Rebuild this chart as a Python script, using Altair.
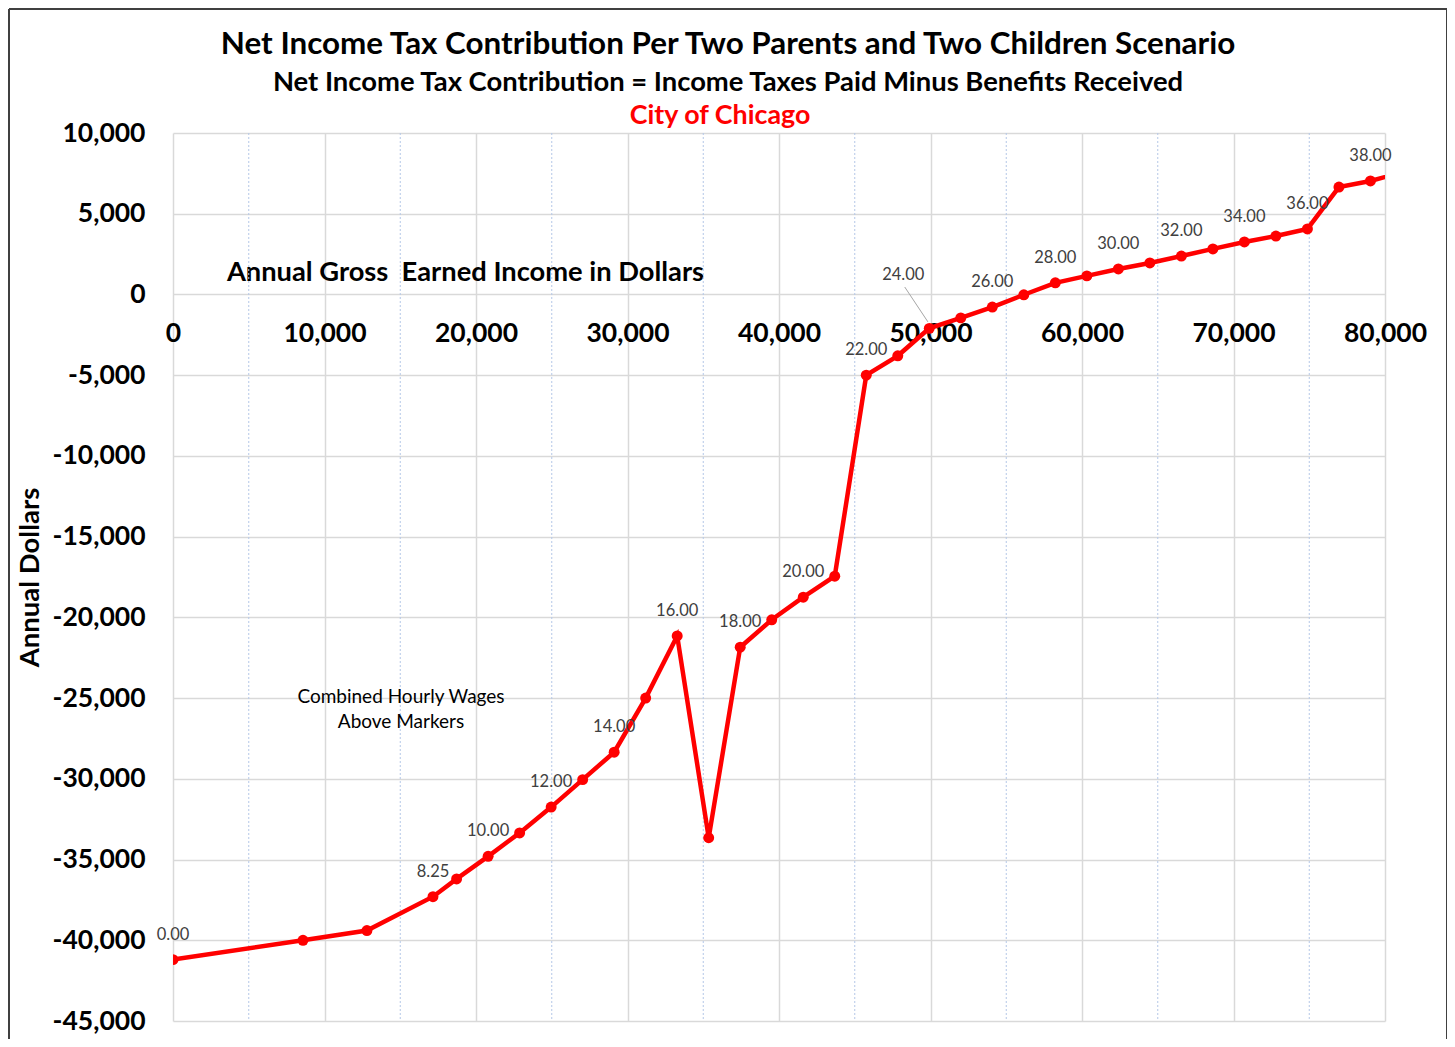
import altair as alt
import pandas as pd

# ---------------- data ----------------
income = [0, 8580, 12800, 17160, 18720, 20800, 22880, 24960, 27040, 29120,
          31200, 33280, 35360, 37440, 39520, 41600, 43680, 45760, 47840, 49920,
          52000, 54080, 56160, 58240, 60320, 62400, 64480, 66560, 68640, 70720,
          72800, 74880, 76960, 79040, 81120]
net_tax = [-41200, -40000, -39400, -37300, -36200, -34800, -33350, -31750, -30050, -28350,
           -25000, -21150, -33650, -21850, -20150, -18750, -17450, -5000, -3800, -2100,
           -1450, -780, -20, 720, 1150, 1580, 1950, 2380, 2820, 3250,
           3620, 4060, 6650, 7030, 7560]
wage_label = ["0.00", "", "", "8.25", "", "10.00", "", "12.00", "", "14.00",
              "", "16.00", "", "18.00", "", "20.00", "", "22.00", "", "",
              "", "26.00", "", "28.00", "", "30.00", "", "32.00", "", "34.00",
              "", "36.00", "", "38.00", ""]
callout_label = "24.00"

x_major = [0, 10000, 20000, 30000, 40000, 50000, 60000, 70000, 80000]
x_minor = [5000, 15000, 25000, 35000, 45000, 55000, 65000, 75000]
y_ticks = [-45000, -40000, -35000, -30000, -25000, -20000, -15000, -10000,
           -5000, 0, 5000, 10000]

title_main = "Net Income Tax Contribution Per Two Parents and Two Children Scenario"
title_sub = "Net Income Tax Contribution = Income Taxes Paid Minus Benefits Received"
title_city = "City of Chicago"
x_title = "Annual Gross \u00a0Earned Income in Dollars"
y_title = "Annual Dollars"
note_lines = ["Combined Hourly Wages", "Above Markers"]

# ---------------- chart ----------------
FONT = "Lato"
RED = "#ff0000"
W, H = 1212, 888
X_MIN, X_MAX = 0, 80000
Y_MIN, Y_MAX = -45000, 10000

df = pd.DataFrame({"income": income, "net": net_tax, "label": wage_label})
one = pd.DataFrame({"k": [0]})

xs = alt.Scale(domain=[X_MIN, X_MAX], nice=False, zero=False)
ys = alt.Scale(domain=[Y_MIN, Y_MAX], nice=False, zero=False)

x_axis = alt.Axis(
    values=x_major, labelExpr="format(datum.value, ',')", orient="bottom",
    offset=-H * (0 - Y_MIN) / (Y_MAX - Y_MIN),
    domain=False, ticks=False, tickSize=0, labelPadding=26,
    labelFont=FONT, labelFontSize=26.5, labelFontWeight="bold", labelColor="black",
    labelOverlap=False, labelFlush=False,
    grid=True, gridColor="#d9d9d9", gridWidth=1.5,
    title=x_title, titleFont=FONT, titleFontSize=27.3, titleFontWeight="bold",
    titleColor="black", titleX=292, titleY=-21.5, titleAlign="center",
    titleBaseline="middle", titleAngle=0,
)
y_axis = alt.Axis(
    values=y_ticks,
    labelExpr="replace(format(datum.value, ','), '\u2212', '-')",
    domain=False, ticks=False, tickSize=0, labelPadding=28,
    labelFont=FONT, labelFontSize=26.5, labelFontWeight="bold", labelColor="black",
    labelOverlap=False, labelFlush=False,
    grid=True, gridColor="#d9d9d9", gridWidth=1.5,
    title=y_title, titleFont=FONT, titleFontSize=27.5, titleFontWeight="bold",
    titleColor="black", titleX=-143, titleY=H / 2, titleAngle=270,
    titleAlign="center", titleBaseline="middle",
)

X = alt.X("income:Q", scale=xs, axis=x_axis)
Y = alt.Y("net:Q", scale=ys, axis=y_axis)

minor = alt.Chart(pd.DataFrame({"income": x_minor})).mark_rule(
    color="#b4c7e7", strokeDash=[2, 2], strokeWidth=1
).encode(x=X)

base = alt.Chart(df)
line = base.mark_line(color=RED, strokeWidth=4.5, clip=True).encode(x=X, y=Y)
points = base.mark_circle(color=RED, size=120, opacity=1, clip=True).encode(x=X, y=Y)
labels = base.transform_filter("datum.label != ''").mark_text(
    dy=-25, font=FONT, fontSize=16.5, color="#404040", baseline="middle"
).encode(x=X, y=Y, text="label:N")

leader = alt.Chart(one).mark_rule(color="#a6a6a6", strokeWidth=1).encode(
    x=alt.datum(48300), y=alt.datum(460), x2=alt.datum(49830), y2=alt.datum(-1700)
)
callout = alt.Chart(one).mark_text(
    text=callout_label, font=FONT, fontSize=16.5, color="#404040", baseline="middle"
).encode(x=alt.datum(48200), y=alt.datum(1210))

note = alt.Chart(one).mark_text(
    text=note_lines, font=FONT, fontSize=19, color="black",
    baseline="middle", lineHeight=25
).encode(x=alt.datum(15050), y=alt.datum(-24960))

t1 = alt.Chart(one).mark_text(
    text=title_main, font=FONT, fontSize=31.4, fontWeight="bold", color="black",
    align="center", baseline="middle"
).encode(x=alt.value(555), y=alt.value(-88))
t2 = alt.Chart(one).mark_text(
    text=title_sub, font=FONT, fontSize=27.4, fontWeight="bold", color="black",
    align="center", baseline="middle"
).encode(x=alt.value(555), y=alt.value(-50))
t3 = alt.Chart(one).mark_text(
    text=title_city, font=FONT, fontSize=26.8, fontWeight="bold", color=RED,
    align="center", baseline="middle"
).encode(x=alt.value(547), y=alt.value(-17))

frame_left = alt.Chart(one).mark_rule(color="#404040", strokeWidth=2).encode(
    x=alt.value(-164), y=alt.value(-124), y2=alt.value(906))
frame_top = alt.Chart(one).mark_rule(color="#404040", strokeWidth=2).encode(
    x=alt.value(-164), x2=alt.value(1274), y=alt.value(-124))
frame_right = alt.Chart(one).mark_rule(color="#404040", strokeWidth=2).encode(
    x=alt.value(1274), y=alt.value(-124), y2=alt.value(906))

chart = alt.layer(
    minor, line, points, labels, leader, callout, note, t1, t2, t3,
    frame_left, frame_top, frame_right
).properties(
    width=W, height=H,
    autosize=alt.AutoSizeParams(type="none"),
    padding={"left": 165, "top": 125, "right": 62, "bottom": 18},
    background="white",
).configure_view(stroke=None)

chart.save("out.html", embed_options={"renderer": "svg", "actions": False})
